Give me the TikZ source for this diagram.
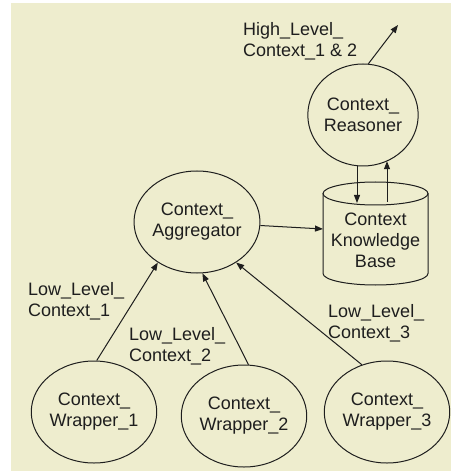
\documentclass[tikz,border=0pt]{standalone}
\usepackage{fontspec}
\setmainfont{Liberation Sans}
\usetikzlibrary{shapes.geometric,arrows.meta,calc}
\definecolor{paper}{RGB}{238,237,206}
\definecolor{ink}{RGB}{30,30,30}

\begin{document}
\begin{tikzpicture}[x=1bp,y=-1bp,
  every node/.style={font=\fontsize{18bp}{21bp}\selectfont, text=ink},
  proc/.style={ellipse, draw=ink, line width=1bp, minimum width=110bp,
    minimum height=102bp, inner sep=0pt, align=center},
  lbl/.style={anchor=west, align=left, inner sep=0pt},
  flow/.style={draw=ink, line width=1bp, -{Triangle[length=8bp,width=6bp]}}]
\useasboundingbox (0,0) rectangle (451,473);
\fill[white] (0,0) rectangle (451,473);
\fill[paper] (11,3) rectangle (451,471);

% processes
\node[proc] (reasoner) at (363,115) {Context\_\\Reasoner};
\node[proc] (agg) at (197,222) {Context\_\\Aggregator};
\node[proc] (w1) at (94,412) {Context\_\\Wrapper\_1};
\node[proc] (w2) at (244,416) {Context\_\\Wrapper\_2};
\node[proc] (w3) at (387,412) {Context\_\\Wrapper\_3};

% knowledge base drum
\draw[ink, line width=1bp, fill=paper]
  (323,193.5) -- (323,273.5)
  arc[start angle=180, end angle=0, x radius=52.5, y radius=11.5]
  -- (428,193.5);
\draw[ink, line width=1bp] (375.5,193.5) ellipse[x radius=52.5, y radius=11.5];
\node[align=center, inner sep=0pt] (kb) at (375.5,240) {Context\\Knowledge\\Base};

% connector ends on the drum and the free output
\coordinate (kbin) at (323,229);
\coordinate (kbdown) at (357,203);
\coordinate (kbup) at (387,202);
\coordinate (hlout) at (398,25);

% flows
\draw[flow] (reasoner.84) -- (hlout);
\draw[flow] (kbdown |- reasoner.-96) -- (kbdown);
\draw[flow] (kbup) -- (kbup |- reasoner.-62);
\draw[flow] (agg) -- (kbin);
\draw[flow] (w1.87) -- (agg.-134);
\draw[flow] (w2.85) -- (agg.-84);
\draw[flow] (w3.118) -- (agg.-46);

% labels
\node[lbl] (hl) at (243,41) {High\_Level\_\\Context\_1 \& 2};
\node[lbl] (l1) at (28,301) {Low\_Level\_\\Context\_1};
\node[lbl] (l2) at (129,346) {Low\_Level\_\\Context\_2};
\node[lbl] (l3) at (328,323) {Low\_Level\_\\Context\_3};
\end{tikzpicture}
\end{document}
